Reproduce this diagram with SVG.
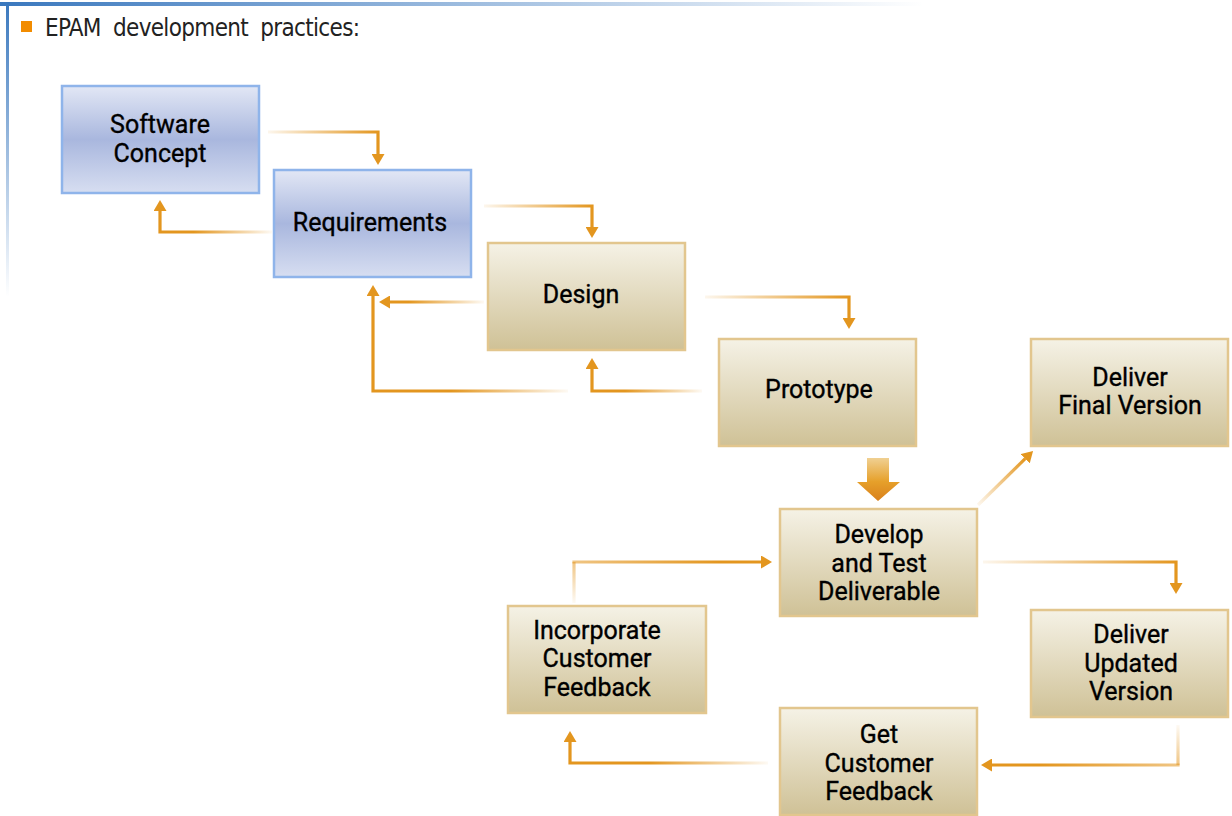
<svg xmlns="http://www.w3.org/2000/svg" width="1232" height="816" viewBox="0 0 1232 816">
<style>
.lbl{font-family:Roboto,"Liberation Sans",sans-serif;font-size:25px;font-weight:400;fill:#000;text-anchor:middle;stroke:#000;stroke-width:0.35}
.blue{fill:url(#blueFill);stroke:#8fb4ea;stroke-width:2.5}
.tan{fill:url(#tanFill);stroke:#e2c68e;stroke-width:2.5}
.c{fill:none;stroke-width:3.2}
</style>
<defs>
<linearGradient id="topBar" x1="0" y1="0" x2="1" y2="0">
<stop offset="0" stop-color="#3a78be"/><stop offset="0.75" stop-color="#3a78be" stop-opacity="0"/>
</linearGradient>
<linearGradient id="leftBar" x1="0" y1="0" x2="0" y2="1">
<stop offset="0" stop-color="#3a78be"/><stop offset="1" stop-color="#3a78be" stop-opacity="0"/>
</linearGradient>
<linearGradient id="blueFill" x1="0" y1="0" x2="0" y2="1">
<stop offset="0" stop-color="#e2e7f5"/><stop offset="0.5" stop-color="#a9b7de"/><stop offset="1" stop-color="#d7def1"/>
</linearGradient>
<linearGradient id="tanFill" x1="0" y1="0" x2="0" y2="1">
<stop offset="0" stop-color="#f5f2e6"/><stop offset="1" stop-color="#cfc196"/>
</linearGradient>
<linearGradient id="bigArrow" x1="0" y1="0" x2="0" y2="1">
<stop offset="0" stop-color="#f0d092"/><stop offset="0.55" stop-color="#e6a02a"/><stop offset="1" stop-color="#d9801c"/>
</linearGradient>
<marker id="ah" viewBox="0 0 11 13" refX="0" refY="6.5" markerWidth="11" markerHeight="13" markerUnits="userSpaceOnUse" orient="auto">
<path d="M0,0 L11,6.5 L0,13 Z" fill="#e3961f"/>
</marker>
<linearGradient id="g1" gradientUnits="userSpaceOnUse" x1="268" y1="0" x2="378" y2="0"><stop offset="0" stop-color="#e3961f" stop-opacity="0.08"/><stop offset="1" stop-color="#e3961f"/></linearGradient>
<linearGradient id="g2" gradientUnits="userSpaceOnUse" x1="272" y1="0" x2="160" y2="0"><stop offset="0" stop-color="#e3961f" stop-opacity="0.05"/><stop offset="0.7" stop-color="#e3961f"/></linearGradient>
<linearGradient id="g3" gradientUnits="userSpaceOnUse" x1="484" y1="0" x2="592" y2="0"><stop offset="0" stop-color="#e3961f" stop-opacity="0.08"/><stop offset="1" stop-color="#e3961f"/></linearGradient>
<linearGradient id="g4" gradientUnits="userSpaceOnUse" x1="484" y1="0" x2="390" y2="0"><stop offset="0" stop-color="#e3961f" stop-opacity="0.05"/><stop offset="0.8" stop-color="#e3961f"/></linearGradient>
<linearGradient id="g5" gradientUnits="userSpaceOnUse" x1="568" y1="0" x2="373" y2="0"><stop offset="0" stop-color="#e3961f" stop-opacity="0.05"/><stop offset="0.6" stop-color="#e3961f"/></linearGradient>
<linearGradient id="g6" gradientUnits="userSpaceOnUse" x1="702" y1="0" x2="592" y2="0"><stop offset="0" stop-color="#e3961f" stop-opacity="0.05"/><stop offset="0.7" stop-color="#e3961f"/></linearGradient>
<linearGradient id="g7" gradientUnits="userSpaceOnUse" x1="705" y1="0" x2="849" y2="0"><stop offset="0" stop-color="#e3961f" stop-opacity="0.08"/><stop offset="1" stop-color="#e3961f"/></linearGradient>
<linearGradient id="g8" gradientUnits="userSpaceOnUse" x1="978" y1="505" x2="1025" y2="458"><stop offset="0" stop-color="#e3961f" stop-opacity="0.08"/><stop offset="1" stop-color="#e3961f"/></linearGradient>
<linearGradient id="g9" gradientUnits="userSpaceOnUse" x1="983" y1="0" x2="1176" y2="0"><stop offset="0" stop-color="#e3961f" stop-opacity="0.08"/><stop offset="1" stop-color="#e3961f"/></linearGradient>
<linearGradient id="g10a" gradientUnits="userSpaceOnUse" x1="0" y1="725" x2="0" y2="765"><stop offset="0" stop-color="#e3961f" stop-opacity="0.05"/><stop offset="1" stop-color="#e3961f" stop-opacity="0.55"/></linearGradient>
<linearGradient id="g10b" gradientUnits="userSpaceOnUse" x1="1180" y1="0" x2="1040" y2="0"><stop offset="0" stop-color="#e3961f" stop-opacity="0.55"/><stop offset="1" stop-color="#e3961f"/></linearGradient>
<linearGradient id="g11" gradientUnits="userSpaceOnUse" x1="768" y1="0" x2="570" y2="0"><stop offset="0" stop-color="#e3961f" stop-opacity="0.05"/><stop offset="0.6" stop-color="#e3961f"/></linearGradient>
<linearGradient id="g12a" gradientUnits="userSpaceOnUse" x1="0" y1="603" x2="0" y2="562"><stop offset="0" stop-color="#e3961f" stop-opacity="0.05"/><stop offset="1" stop-color="#e3961f" stop-opacity="0.55"/></linearGradient>
<linearGradient id="g12b" gradientUnits="userSpaceOnUse" x1="572" y1="0" x2="720" y2="0"><stop offset="0" stop-color="#e3961f" stop-opacity="0.55"/><stop offset="1" stop-color="#e3961f"/></linearGradient>
</defs>
<rect width="1232" height="816" fill="#fff"/>
<g id="header">
<rect x="0" y="2" width="1232" height="4" fill="url(#topBar)"/>
<rect x="6" y="2" width="3" height="295" fill="url(#leftBar)"/>
<rect x="21" y="21" width="11" height="11" fill="#f28c00"/>
<text x="45" y="36" font-family="'DejaVu Sans Condensed','Liberation Sans',sans-serif" font-size="24" fill="#222" word-spacing="6" textLength="315" lengthAdjust="spacing">EPAM development practices:</text>
</g>
<g id="connectors">
<path class="c" stroke="url(#g1)" d="M268,132 H378 V154" marker-end="url(#ah)"/>
<path class="c" stroke="url(#g2)" d="M272,232 H160 V211" marker-end="url(#ah)"/>
<path class="c" stroke="url(#g3)" d="M484,206 H592 V227" marker-end="url(#ah)"/>
<path class="c" stroke="url(#g4)" d="M484,302 H390" marker-end="url(#ah)"/>
<path class="c" stroke="url(#g5)" d="M568,391 H373 V296" marker-end="url(#ah)"/>
<path class="c" stroke="url(#g6)" d="M702,391 H592 V369" marker-end="url(#ah)"/>
<path class="c" stroke="url(#g7)" d="M705,297 H849 V318" marker-end="url(#ah)"/>
<polygon points="867,458 889,458 889,482 900,482 878,501 857,482 867,482" fill="url(#bigArrow)"/>
<path class="c" stroke="url(#g8)" d="M978,505 L1025.2,458.7" marker-end="url(#ah)"/>
<path class="c" stroke="url(#g9)" d="M983,562 H1176 V583" marker-end="url(#ah)"/>
<path class="c" stroke="url(#g10a)" d="M1178,725 V765"/>
<path class="c" stroke="url(#g10b)" d="M1179.6,765 H992" marker-end="url(#ah)"/>
<path class="c" stroke="url(#g11)" d="M768,763 H570 V742" marker-end="url(#ah)"/>
<path class="c" stroke="url(#g12a)" d="M574,603 V562"/>
<path class="c" stroke="url(#g12b)" d="M572.4,562 H761" marker-end="url(#ah)"/>
</g>
<g id="software-concept">
<rect class="blue" x="62" y="86" width="197" height="107"/>
<text class="lbl" x="160" y="133">Software</text>
<text class="lbl" x="160" y="162">Concept</text>
</g>
<g id="requirements">
<rect class="blue" x="274" y="170" width="197" height="107"/>
<text class="lbl" x="370" y="231">Requirements</text>
</g>
<g id="design">
<rect class="tan" x="488" y="243" width="197" height="107"/>
<text class="lbl" x="581" y="303">Design</text>
</g>
<g id="prototype">
<rect class="tan" x="719" y="339" width="197" height="107"/>
<text class="lbl" x="819" y="398">Prototype</text>
</g>
<g id="deliver-final">
<rect class="tan" x="1031" y="339" width="197" height="107"/>
<text class="lbl" x="1130" y="386">Deliver</text>
<text class="lbl" x="1130" y="414">Final Version</text>
</g>
<g id="develop-test">
<rect class="tan" x="780" y="509" width="197" height="107"/>
<text class="lbl" x="879" y="543">Develop</text>
<text class="lbl" x="879" y="572">and Test</text>
<text class="lbl" x="879" y="600">Deliverable</text>
</g>
<g id="deliver-updated">
<rect class="tan" x="1031" y="610" width="197" height="107"/>
<text class="lbl" x="1131" y="643">Deliver</text>
<text class="lbl" x="1131" y="672">Updated</text>
<text class="lbl" x="1131" y="700">Version</text>
</g>
<g id="get-feedback">
<rect class="tan" x="780" y="708" width="197" height="107"/>
<text class="lbl" x="879" y="743">Get</text>
<text class="lbl" x="879" y="772">Customer</text>
<text class="lbl" x="879" y="800">Feedback</text>
</g>
<g id="incorporate-feedback">
<rect class="tan" x="508" y="606" width="198" height="107"/>
<text class="lbl" x="597" y="639">Incorporate</text>
<text class="lbl" x="597" y="667">Customer</text>
<text class="lbl" x="597" y="696">Feedback</text>
</g>
</svg>
